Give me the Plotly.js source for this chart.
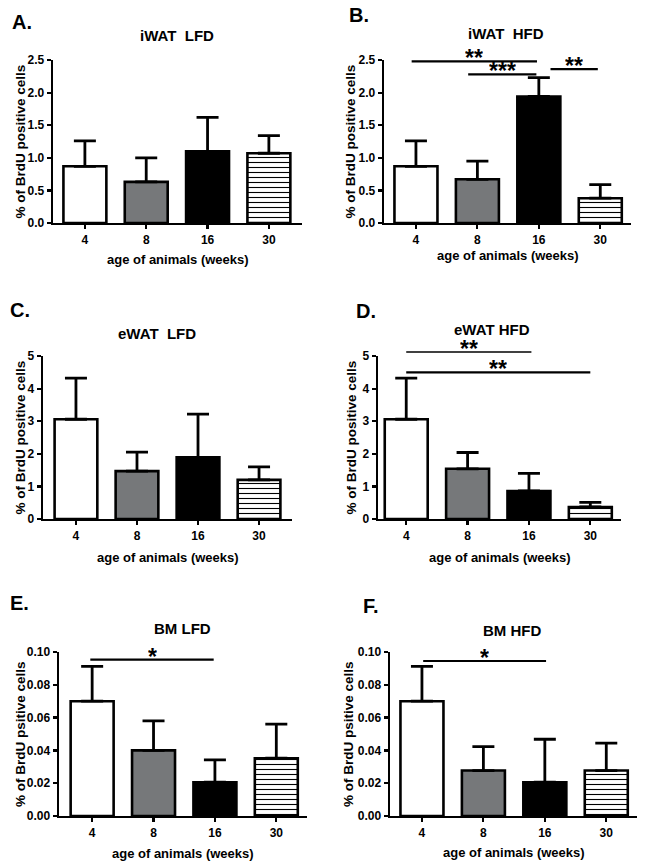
<!DOCTYPE html>
<html>
<head>
<meta charset="utf-8">
<script src="https://cdn.plot.ly/plotly-3.0.1.min.js"></script>
<style>html,body{margin:0;padding:0;background:#fff}#chart{width:648px;height:867px}</style>
</head>
<body>
<div id="chart"></div>
<script>
// ---------- DATA ----------
const ages = ['4', '8', '16', '30'];

const iwatLfdMean = [0.87, 0.63, 1.10, 1.07];
const iwatLfdErr  = [0.39, 0.37, 0.52, 0.27];

const iwatHfdMean = [0.87, 0.67, 1.94, 0.38];
const iwatHfdErr  = [0.39, 0.28, 0.29, 0.21];

const ewatLfdMean = [3.06, 1.47, 1.89, 1.20];
const ewatLfdErr  = [1.26, 0.58, 1.33, 0.40];

const ewatHfdMean = [3.06, 1.54, 0.86, 0.37];
const ewatHfdErr  = [1.26, 0.50, 0.54, 0.14];

const bmLfdMean = [0.070, 0.040, 0.0206, 0.0352];
const bmLfdErr  = [0.0212, 0.0180, 0.0136, 0.0208];

const bmHfdMean = [0.070, 0.0277, 0.0206, 0.0277];
const bmHfdErr  = [0.0212, 0.0146, 0.0262, 0.0167];

// significance brackets: from-category index, to-category index, y level, label
const iwatHfdSigFrom  = [-0.07, 0.85, 2.19];
const iwatHfdSigTo    = [1.97, 1.96, 2.96];
const iwatHfdSigY     = [2.48, 2.28, 2.36];
const iwatHfdSigLabel = ['**', '***', '**'];

const ewatHfdSigFrom  = [0.0, 0.0];
const ewatHfdSigTo    = [2.04, 3.0];
const ewatHfdSigY     = [5.12, 4.5];
const ewatHfdSigLabel = ['**', '**'];

const bmLfdSigFrom  = [-0.03];
const bmLfdSigTo    = [1.98];
const bmLfdSigY     = [0.0953];
const bmLfdSigLabel = ['*'];

const bmHfdSigFrom  = [0.02];
const bmHfdSigTo    = [2.02];
const bmHfdSigY     = [0.0945];
const bmHfdSigLabel = ['*'];

const yTitleStd  = '% of BrdU positive cells';
const yTitleBM   = '% of BrdU psitive cells';
const xTitle     = 'age of animals (weeks)';

// ---------- LAYOUT / STYLE ----------
const W = 648, H = 867;
const FONT = 'Liberation Sans, Arial, Helvetica, sans-serif';
const px = v => v / W;
const py = v => 1 - v / H;

const panels = [
  {letter: 'A.', title: 'iWAT  LFD', mean: iwatLfdMean, err: iwatLfdErr, sig: null,
   x: [53, 302], y: [60, 223], xr: [-0.52, 3.54], yr: [0, 2.5], dtick: 0.5, fmt: '.1f',
   titleXY: [177, 35], letterXY: [10, 22], yTitleX: 20, xTitleY: 259, yTitle: yTitleStd},
  {letter: 'B.', title: 'iWAT  HFD', mean: iwatHfdMean, err: iwatHfdErr,
   sig: [iwatHfdSigFrom, iwatHfdSigTo, iwatHfdSigY, iwatHfdSigLabel], sigW: [2.2, 2.2, 2.2],
   x: [384, 631], y: [60, 223], xr: [-0.52, 3.5], yr: [0, 2.5], dtick: 0.5, fmt: '.1f',
   titleXY: [506, 33], letterXY: [347, 15], yTitleX: 350, xTitleY: 255, yTitle: yTitleStd},
  {letter: 'C.', title: 'eWAT  LFD', mean: ewatLfdMean, err: ewatLfdErr, sig: null,
   x: [43, 292], y: [356, 519], xr: [-0.54, 3.54], yr: [0, 5], dtick: 1, fmt: 'd',
   titleXY: [157, 333], letterXY: [8, 310], yTitleX: 20, xTitleY: 557, yTitle: yTitleStd},
  {letter: 'D.', title: 'eWAT HFD', mean: ewatHfdMean, err: ewatHfdErr,
   sig: [ewatHfdSigFrom, ewatHfdSigTo, ewatHfdSigY, ewatHfdSigLabel], sigW: [1.5, 2.2],
   x: [378, 621], y: [356, 519], xr: [-0.46, 3.5], yr: [0, 5], dtick: 1, fmt: 'd',
   titleXY: [492, 329.5], letterXY: [354, 311], yTitleX: 351, xTitleY: 557, yTitle: yTitleStd},
  {letter: 'E.', title: 'BM LFD', mean: bmLfdMean, err: bmLfdErr,
   sig: [bmLfdSigFrom, bmLfdSigTo, bmLfdSigY, bmLfdSigLabel], sigW: [2.2],
   x: [59, 307], y: [652, 816], xr: [-0.54, 3.5], yr: [0, 0.1], dtick: 0.02, fmt: '.2f',
   titleXY: [182, 628], letterXY: [8, 603], yTitleX: 20, xTitleY: 853, yTitle: yTitleBM},
  {letter: 'F.', title: 'BM HFD', mean: bmHfdMean, err: bmHfdErr,
   sig: [bmHfdSigFrom, bmHfdSigTo, bmHfdSigY, bmHfdSigLabel], sigW: [2.2],
   x: [390, 637], y: [652, 816], xr: [-0.52, 3.5], yr: [0, 0.1], dtick: 0.02, fmt: '.2f',
   titleXY: [512, 630], letterXY: [361, 606], yTitleX: 348, xTitleY: 852, yTitle: yTitleBM}
];

const barFill = ['#ffffff', '#76787a', '#000000'];

const data = [];
const layout = {
  width: W, height: H,
  margin: {l: 0, r: 0, t: 0, b: 0},
  paper_bgcolor: '#ffffff', plot_bgcolor: 'rgba(0,0,0,0)',
  showlegend: false, barmode: 'overlay',
  font: {family: FONT, color: '#000'},
  annotations: [], shapes: []
};

panels.forEach((p, i) => {
  const n = i + 1;
  const xa = n === 1 ? 'x' : 'x' + n;
  const ya = n === 1 ? 'y' : 'y' + n;
  const xKey = n === 1 ? 'xaxis' : 'xaxis' + n;
  const yKey = n === 1 ? 'yaxis' : 'yaxis' + n;
  const errStyle = {color: '#000', thickness: 2.8, width: 11};
  const outline = {color: '#000', width: 2.6};

  // solid bars (4, 8, 16 weeks)
  data.push({
    type: 'bar', x: ages.slice(0, 3), y: p.mean.slice(0, 3), xaxis: xa, yaxis: ya, width: 0.7,
    marker: {color: barFill, line: outline},
    error_y: Object.assign({type: 'data', symmetric: false, array: p.err.slice(0, 3),
              arrayminus: [0, 0, 0]}, errStyle),
    hoverinfo: 'skip', cliponaxis: false
  });
  // hatched bar (30 weeks)
  data.push({
    type: 'bar', x: ages.slice(3), y: p.mean.slice(3), xaxis: xa, yaxis: ya, width: 0.7,
    marker: {color: '#ffffff', line: outline,
             pattern: {shape: '-', fgcolor: '#000000', bgcolor: '#ffffff', size: 5, solidity: 0.22}},
    error_y: Object.assign({type: 'data', symmetric: false, array: p.err.slice(3),
              arrayminus: [0]}, errStyle),
    hoverinfo: 'skip', cliponaxis: false
  });

  const axCommon = {
    showline: true, linecolor: '#000', linewidth: 2.4, ticks: 'outside', ticklen: 4, tickwidth: 2.2,
    tickcolor: '#000', showgrid: false, zeroline: false, fixedrange: true,
    tickfont: {family: FONT, size: 12, color: '#000', weight: 'bold'}
  };
  layout[xKey] = Object.assign({
    domain: [px(p.x[0]), px(p.x[1])], anchor: ya, type: 'category', range: p.xr,
    categoryorder: 'array', categoryarray: ages
  }, axCommon);
  layout[yKey] = Object.assign({
    domain: [py(p.y[1]), py(p.y[0])], anchor: xa, range: p.yr, dtick: p.dtick, tick0: 0,
    tickformat: p.fmt
  }, axCommon);

  layout.annotations.push({xref: 'paper', yref: 'paper', x: px(p.letterXY[0]), y: py(p.letterXY[1]),
    xanchor: 'left', yanchor: 'middle', showarrow: false, text: p.letter,
    font: {family: FONT, size: 20, color: '#000', weight: 'bold'}});
  layout.annotations.push({xref: 'paper', yref: 'paper', x: px(p.titleXY[0]), y: py(p.titleXY[1]),
    xanchor: 'center', yanchor: 'middle', showarrow: false, text: p.title,
    font: {family: FONT, size: 15, color: '#000', weight: 'bold'}});
  layout.annotations.push({xref: 'paper', yref: 'paper', x: px(p.yTitleX), y: py((p.y[0] + p.y[1]) / 2),
    xanchor: 'center', yanchor: 'middle', showarrow: false, text: p.yTitle, textangle: -90,
    font: {family: FONT, size: 13.5, color: '#000', weight: 'bold'}});
  layout.annotations.push({xref: 'paper', yref: 'paper', x: px((p.x[0] + p.x[1]) / 2), y: py(p.xTitleY),
    xanchor: 'center', yanchor: 'middle', showarrow: false, text: xTitle,
    font: {family: FONT, size: 13, color: '#000', weight: 'bold'}});

  if (p.sig) {
    const [from, to, lev, lab] = p.sig;
    from.forEach((f, k) => {
      const yf = lev[k] / p.yr[1];
      layout.shapes.push({type: 'line', xref: xa, yref: ya + ' domain', x0: f, x1: to[k], y0: yf, y1: yf,
        line: {color: '#000', width: p.sigW[k]}});
      layout.annotations.push({xref: xa, yref: ya + ' domain', x: (f + to[k]) / 2, y: yf,
        xanchor: 'center', yanchor: 'bottom', yshift: 1, height: 13, valign: 'top',
        showarrow: false, text: lab[k],
        font: {family: FONT, size: 23, color: '#000', weight: 'bold'}});
    });
  }
});

Plotly.newPlot('chart', data, layout, {staticPlot: true});
</script>
</body>
</html>
